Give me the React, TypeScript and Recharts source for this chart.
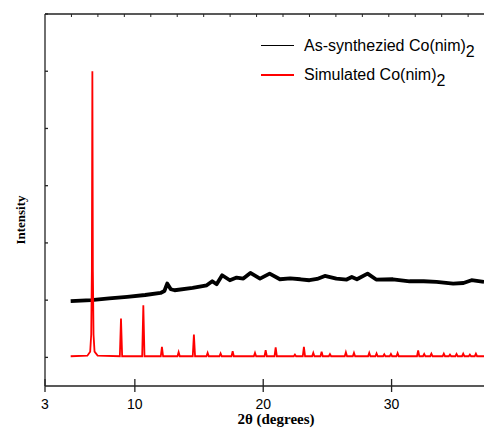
import React from 'react'
import { LineChart, Line, XAxis, YAxis, Legend } from 'recharts'

// simulated pattern: peak positions (2θ) and peak heights
const redPeakAngle = [
  6.69, 8.92, 10.66, 12.11, 13.41, 14.6, 15.67, 16.68, 17.62, 19.36, 20.19, 20.97,
  22.47, 23.17, 23.9, 24.55, 25.2, 26.44, 27.07, 28.26, 28.83, 29.43, 29.95, 30.47,
  32.07, 32.54, 33.1, 34.07, 34.55, 35.06, 35.58, 36.1, 36.57,
]
const redPeakHeight = [
  6000, 1680, 1912, 1185, 1093, 1401, 1080, 1070, 1110, 1080, 1127, 1175,
  1050, 1185, 1080, 1100, 1058, 1090, 1080, 1080, 1070, 1055, 1060, 1075,
  1120, 1060, 1065, 1065, 1050, 1060, 1065, 1050, 1065,
]
// foot of the strongest reflection
const redFootAngle = [6.3, 6.52, 6.6, 6.78, 6.86, 7.1]
const redFootHeight = [1030, 1100, 1400, 1400, 1100, 1030]
const redBaseline = 1020

// as-synthesized pattern
const blackAngle = [
  5.0, 6.6, 8.0, 9.4, 10.8, 12.0, 12.3, 12.52, 12.8, 13.1, 14.5, 15.6, 16.03, 16.37,
  16.8, 17.4, 17.93, 18.45, 19.0, 19.75, 20.5, 21.3, 22.1, 22.9, 23.6, 24.2, 24.8,
  25.7, 26.5, 26.9, 27.3, 28.13, 28.8, 30.1, 31.4, 32.5, 33.5, 34.8, 35.6, 36.23, 37.2,
]
const blackIntensity = [
  1982, 2000, 2030, 2057, 2090, 2126, 2160, 2290, 2190, 2173, 2213, 2260, 2330, 2278,
  2435, 2348, 2395, 2377, 2475, 2377, 2464, 2365, 2380, 2365, 2348, 2370, 2423,
  2377, 2360, 2405, 2365, 2464, 2360, 2365, 2330, 2330, 2318, 2290, 2300, 2348, 2318,
]

const xTicks = [3, 10, 20, 30]
const yTicks = [1000, 2000, 3000, 4000, 5000, 6000, 7000]
const topTickCount = 16

const seriesNames = ['As-synthezied Co(nim)', 'Simulated Co(nim)']
const seriesColors = ['#000000', '#ff0000']

const chartW = 484
const chartH = 428
const yAxisW = 45
const plotTop = 14

const halfWidth = 0.09
const redPoints: { t: number; i: number }[] = [
  { t: 5.0, i: redBaseline },
  { t: 37.2, i: redBaseline },
]
redPeakAngle.forEach((t, k) => {
  if (k === 0) {
    redPoints.push({ t, i: redPeakHeight[k] })
    redPoints.push({ t: t - 0.04, i: 2500 }, { t: t + 0.04, i: 2500 })
    return
  }
  redPoints.push({ t: t - halfWidth, i: redBaseline }, { t, i: redPeakHeight[k] }, { t: t + halfWidth, i: redBaseline })
})
redFootAngle.forEach((t, k) => redPoints.push({ t, i: redFootHeight[k] }))
redPoints.sort((a, b) => a.t - b.t)

const blackPoints = blackAngle.map((t, k) => ({ t, i: blackIntensity[k] }))

const axisStroke = '#222'

function BottomTick(props: any) {
  const { x, y, payload } = props
  const axisY = y - 6 - 2
  return (
    <g>
      <line x1={x} x2={x} y1={axisY - 7} y2={axisY} stroke={axisStroke} strokeWidth={1.3} />
      <text x={x} y={axisY + 23} textAnchor="middle" fontSize={14}
        fontFamily="'Liberation Sans', Arial, sans-serif" fill="#000">{payload.value}</text>
    </g>
  )
}

function NoLabel() {
  return null
}

// y title plus the top frame edge with its small inward ticks
function YTitleAndFrame() {
  const step = (chartW - yAxisW) / 16.6
  const cx = 20
  const cy = (plotTop + 386) / 2 + 20
  return (
    <g>
      <path d={`M${yAxisW},${plotTop}H${chartW}`} stroke={axisStroke} strokeWidth={1.3} fill="none" />
      {Array.from({ length: topTickCount }, (_, k) => (
        <path key={k} d={`M${yAxisW + step * (k + 1)},${plotTop}V${plotTop + 3}`} stroke={axisStroke} strokeWidth={1} fill="none" />
      ))}
      <text x={cx} y={cy} transform={`rotate(-90, ${cx}, ${cy})`} textAnchor="middle" dominantBaseline="central"
        fontSize={13} fontWeight="bold" fontFamily="'Liberation Serif', 'Times New Roman', serif" fill="#000">
        Intensity
      </text>
    </g>
  )
}

function LegendBox() {
  return (
    <div style={{ fontFamily: "'Liberation Sans', Arial, sans-serif", fontSize: 16, color: '#000' }}>
      {seriesNames.map((name, k) => (
        <div key={name} style={{ display: 'flex', alignItems: 'center', height: 29.3, whiteSpace: 'nowrap' }}>
          <span style={{ display: 'inline-block', width: 33, height: 1.6, background: seriesColors[k], marginRight: 10 }} />
          <span>{name}<span style={{ position: 'relative', top: 6 }}>2</span></span>
        </div>
      ))}
    </div>
  )
}

export default function App() {
  return (
    <div style={{ position: 'absolute', left: 0, top: 0 }}>
      <LineChart width={chartW} height={chartH} margin={{ top: plotTop, right: 0, bottom: 0, left: 0 }}>
        <XAxis xAxisId="bottom" dataKey="t" type="number" domain={[3, 37.2]} ticks={xTicks}
          height={42} tickSize={6} tick={<BottomTick />} stroke={axisStroke} strokeWidth={1.3} allowDataOverflow
          label={{
            content: (p: any) => (
              <text x={p.viewBox.x + p.viewBox.width / 2 + 11.5} y={p.viewBox.y + 38} textAnchor="middle"
                fontSize={15} fontWeight="bold" fontFamily="'Liberation Serif', 'Times New Roman', serif" fill="#000">
                2θ (degrees)
              </text>
            ),
          }} />
        <YAxis type="number" domain={[500, 7000]} ticks={yTicks} width={yAxisW} tickSize={-3} tick={<NoLabel />}
          stroke={axisStroke} strokeWidth={1.3} allowDataOverflow
          label={{ content: () => <YTitleAndFrame /> }} />
        <Legend layout="vertical" align="center" verticalAlign="middle" content={<LegendBox />}
          wrapperStyle={{ left: 261, top: 31, width: 223 }} />
        <Line xAxisId="bottom" data={blackPoints} dataKey="i" name={seriesNames[0]} type="linear"
          stroke={seriesColors[0]} strokeWidth={3.8} strokeLinejoin="round" dot={false} isAnimationActive={false} />
        <Line xAxisId="bottom" data={redPoints} dataKey="i" name={seriesNames[1]} type="linear"
          stroke={seriesColors[1]} strokeWidth={1.8} dot={false} isAnimationActive={false} />
      </LineChart>
    </div>
  )
}
